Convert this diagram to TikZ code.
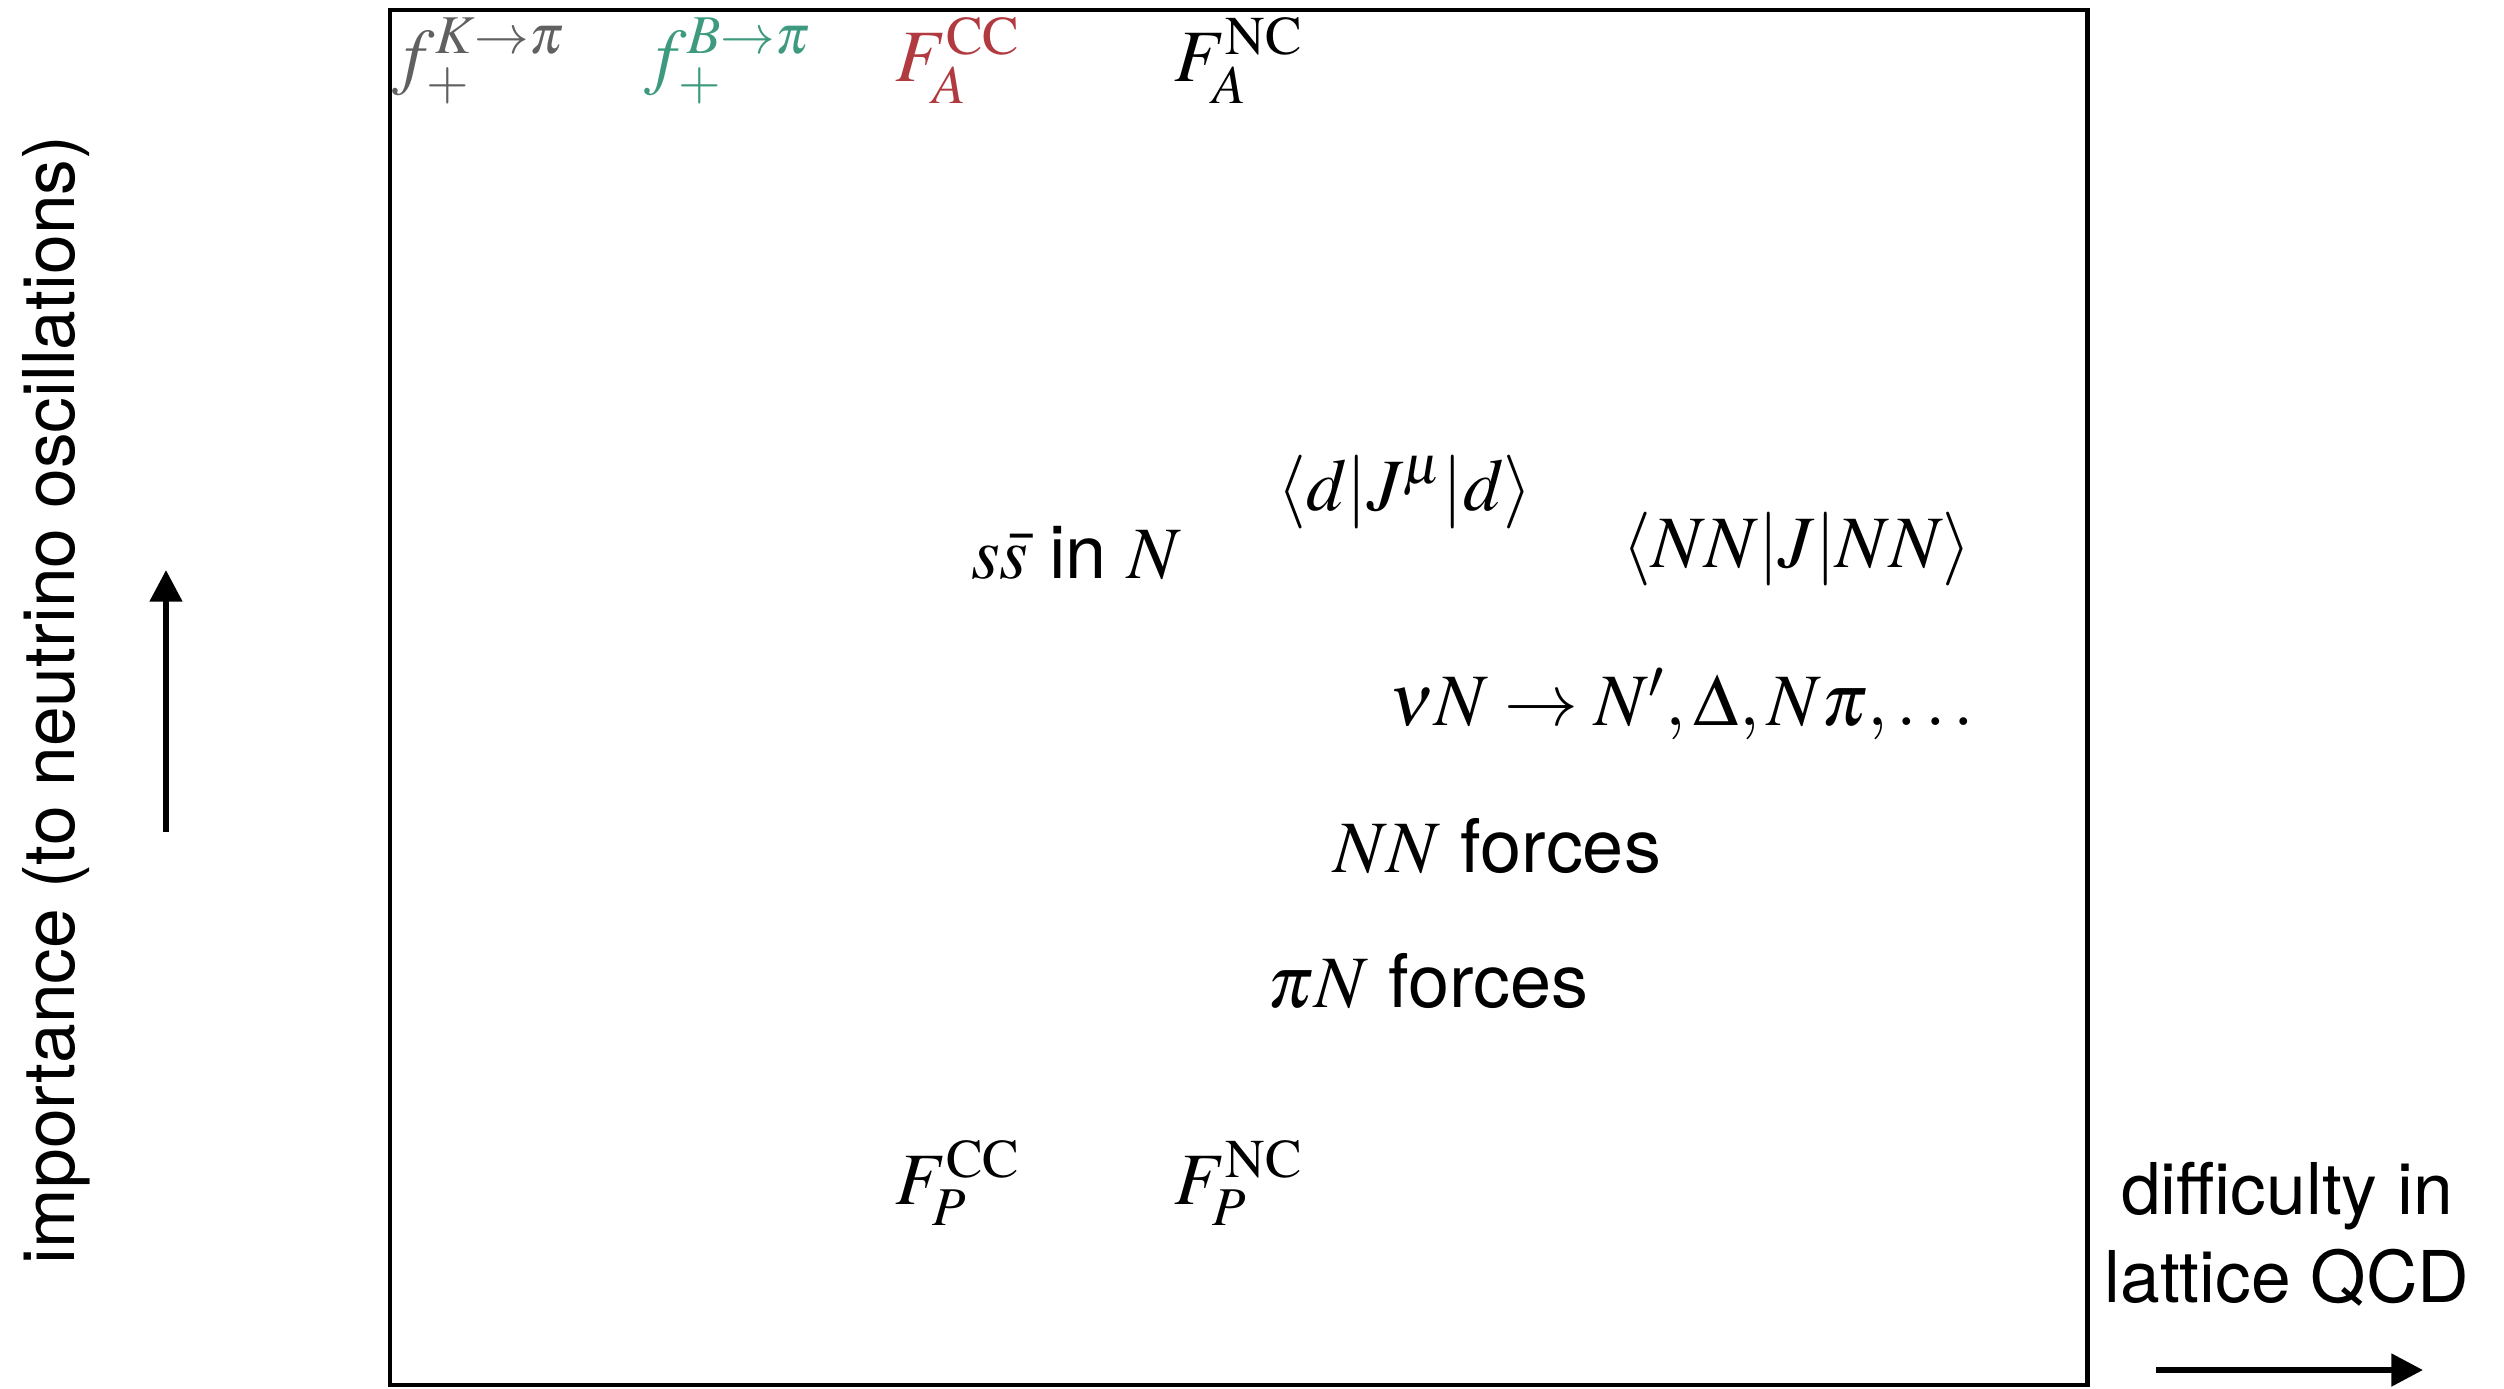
\documentclass[tikz,border=0pt]{standalone}
\usepackage{mathptmx}
\usepackage[no-math]{fontspec}
\setmainfont{TeX Gyre Heros}
\usepackage{tikz}
\usetikzlibrary{positioning, arrows.meta}

\definecolor{kpigray}{RGB}{96,96,96}
\definecolor{bpigreen}{RGB}{62,154,126}
\definecolor{ccred}{RGB}{176,58,64}

\tikzset{
    lbl/.style={inner sep=0pt, font=\fontsize{21}{25}\selectfont},
    axislbl/.style={inner sep=0pt, align=center, font=\fontsize{20.3}{25}\selectfont},
    axisarrow/.style={line width=1.7pt, -{Triangle[length=9pt, width=9pt]}}
}

\begin{document}
\begin{tikzpicture}[x=0.01cm, y=-0.01cm]
\useasboundingbox (0,0) rectangle (2504,1388);
% frame
\draw[line width=1.4pt] (390,10) rectangle (2087,1385);

% top row
\node[lbl, text=kpigray] (fkpi) at (479,61) {$f_+^{K\to\pi}$};
\node[lbl, text=bpigreen] (fbpi) at (728,61) {$f_+^{B\to\pi}$};
\node[lbl, text=ccred] (facc) at (958,61) {$F_A^{\mathrm{CC}}$};
\node[lbl] (fanc) at (1239,61) {$F_A^{\mathrm{NC}}$};

% middle
\node[lbl] (dJd) at (1405,492) {$\langle d|J^\mu|d\rangle$};
\node[lbl] (ssbar) at (1076,553) {$s\bar{s}$ in $N$};
\node[lbl] (NNJNN) at (1797,549) {$\langle NN|J|NN\rangle$};
\node[lbl] (nuN) at (1682,704) {$\nu N\to N',\Delta,N\pi,\ldots$};
\node[lbl] (NNf) at (1497,846) {$NN$ forces};
\node[lbl] (piNf) at (1428,981) {$\pi N$ forces};

% bottom row
\node[lbl] (fpcc) at (958,1183) {$F_P^{\mathrm{CC}}$};
\node[lbl] (fpnc) at (1239,1183) {$F_P^{\mathrm{NC}}$};

% axes
\node[axislbl, rotate=90] (ylbl) at (56,700) {importance (to neutrino oscillations)};
\coordinate (up0) at (166,832);
\coordinate (up1) at (166,570);
\draw[axisarrow] (up0) -- (up1);

\node[axislbl] (xlbl) at (2287,1234) {difficulty in\\lattice QCD};
\coordinate (rt0) at (2156,1370);
\coordinate (rt1) at (2423,1370);
\draw[axisarrow] (rt0) -- (rt1);
\end{tikzpicture}
\end{document}
